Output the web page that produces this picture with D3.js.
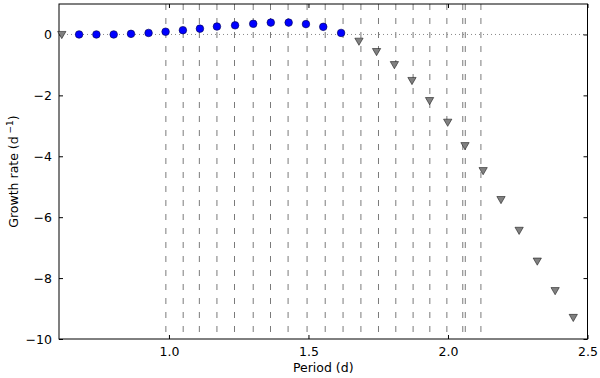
<!DOCTYPE html>
<html><head><meta charset="utf-8">
<script src="https://cdn.jsdelivr.net/npm/d3@7"></script>
<style>
html,body{margin:0;padding:0;background:#fff;}
text{font-family:"DejaVu Sans",sans-serif;}
</style></head>
<body><svg id="c" width="600" height="378"></svg>
<script>
// Data
const unstablePeriods = [0.678,0.740,0.802,0.864,0.927,0.988,1.050,1.111,1.172,1.237,1.302,1.365,1.429,1.491,1.553,1.617];
const unstableRates   = [0.00,0.00,0.00,0.02,0.05,0.09,0.14,0.19,0.26,0.30,0.35,0.39,0.39,0.34,0.25,0.05];
const stablePeriods = [0.616,1.681,1.744,1.808,1.871,1.934,1.999,2.061,2.126,2.190,2.255,2.320,2.384,2.449];
const stableRates   = [0.02,-0.20,-0.54,-0.97,-1.49,-2.15,-2.86,-3.63,-4.45,-5.40,-6.41,-7.42,-8.39,-9.27];
const modePeriods = [0.989,1.051,1.109,1.172,1.235,1.302,1.364,1.427,1.495,1.560,1.624,1.688,1.751,1.813,1.875,1.935,1.996,2.053,2.062,2.118];
const xTicks = [1.0,1.5,2.0,2.5];
const yTicks = [0,-2,-4,-6,-8,-10];

const svg = d3.select("#c");
const L=59,R=587.5,T=4,B=339;
const x = d3.scaleLinear().domain([0.606,2.5]).range([L,R]);
const y = d3.scaleLinear().domain([-10,1]).range([B,T]);

// dashed vertical lines
svg.append("g").selectAll("line").data(modePeriods).join("line")
  .attr("x1",d=>x(d)).attr("x2",d=>x(d)).attr("y1",T).attr("y2",B)
  .attr("stroke","#7a7a7a").attr("stroke-width",1).attr("stroke-dasharray","6,8");

// zero dotted line
svg.append("line").attr("x1",L).attr("x2",R).attr("y1",y(0)).attr("y2",y(0))
  .attr("stroke","#888").attr("stroke-width",1).attr("stroke-dasharray","1,3");

// axes (ticks inward)
const fmtY = d=> d<0 ? "\u2212"+Math.abs(d) : String(d);
const xb = svg.append("g").attr("transform",`translate(0,${B})`)
  .call(d3.axisBottom(x).tickValues(xTicks).tickFormat(d3.format(".1f")).tickSizeInner(-4).tickSizeOuter(0).tickPadding(8));
const xt = svg.append("g").attr("transform",`translate(0,${T})`)
  .call(d3.axisTop(x).tickValues(xTicks).tickFormat("").tickSizeInner(-4).tickSizeOuter(0));
const yl = svg.append("g").attr("transform",`translate(${L},0)`)
  .call(d3.axisLeft(y).tickValues(yTicks).tickFormat(fmtY).tickSizeInner(-4).tickSizeOuter(0).tickPadding(7));
const yr = svg.append("g").attr("transform",`translate(${R},0)`)
  .call(d3.axisRight(y).tickValues(yTicks).tickFormat("").tickSizeInner(-4).tickSizeOuter(0));
[xb,xt,yl,yr].forEach(g=>{
  g.select(".domain").remove();
  g.selectAll("line").attr("stroke","#000");
  g.selectAll("text").attr("font-size",12.5).attr("fill","#000").attr("font-family","DejaVu Sans");
});
svg.append("rect").attr("x",L).attr("y",T).attr("width",R-L).attr("height",B-T)
  .attr("fill","none").attr("stroke","#000").attr("stroke-width",1);

// markers
svg.append("g").selectAll("circle").data(unstablePeriods).join("circle")
  .attr("cx",d=>x(d)).attr("cy",(d,i)=>y(unstableRates[i])).attr("r",3.8)
  .attr("fill","#0000ff").attr("stroke","#00004a").attr("stroke-width",0.6);
const tri = d3.symbol().type(d3.symbolTriangle).size(30);
svg.append("g").selectAll("path").data(stablePeriods).join("path")
  .attr("d",tri)
  .attr("transform",(d,i)=>`translate(${x(d)},${y(stableRates[i])}) rotate(180)`)
  .attr("fill","#808080").attr("stroke","#000").attr("stroke-width",0.5);

// axis labels
svg.append("text").attr("x",(L+R)/2).attr("y",372).attr("text-anchor","middle")
  .attr("font-size",12.5).text("Period (d)");
const yt = svg.append("text").attr("transform",`translate(18,${(T+B)/2}) rotate(-90)`)
  .attr("text-anchor","middle").attr("font-size",12.5);
yt.append("tspan").text("Growth rate (d");
yt.append("tspan").attr("font-size",9).attr("dy",-5).text(" \u22121");
yt.append("tspan").attr("dy",5).text(")");
</script></body></html>
